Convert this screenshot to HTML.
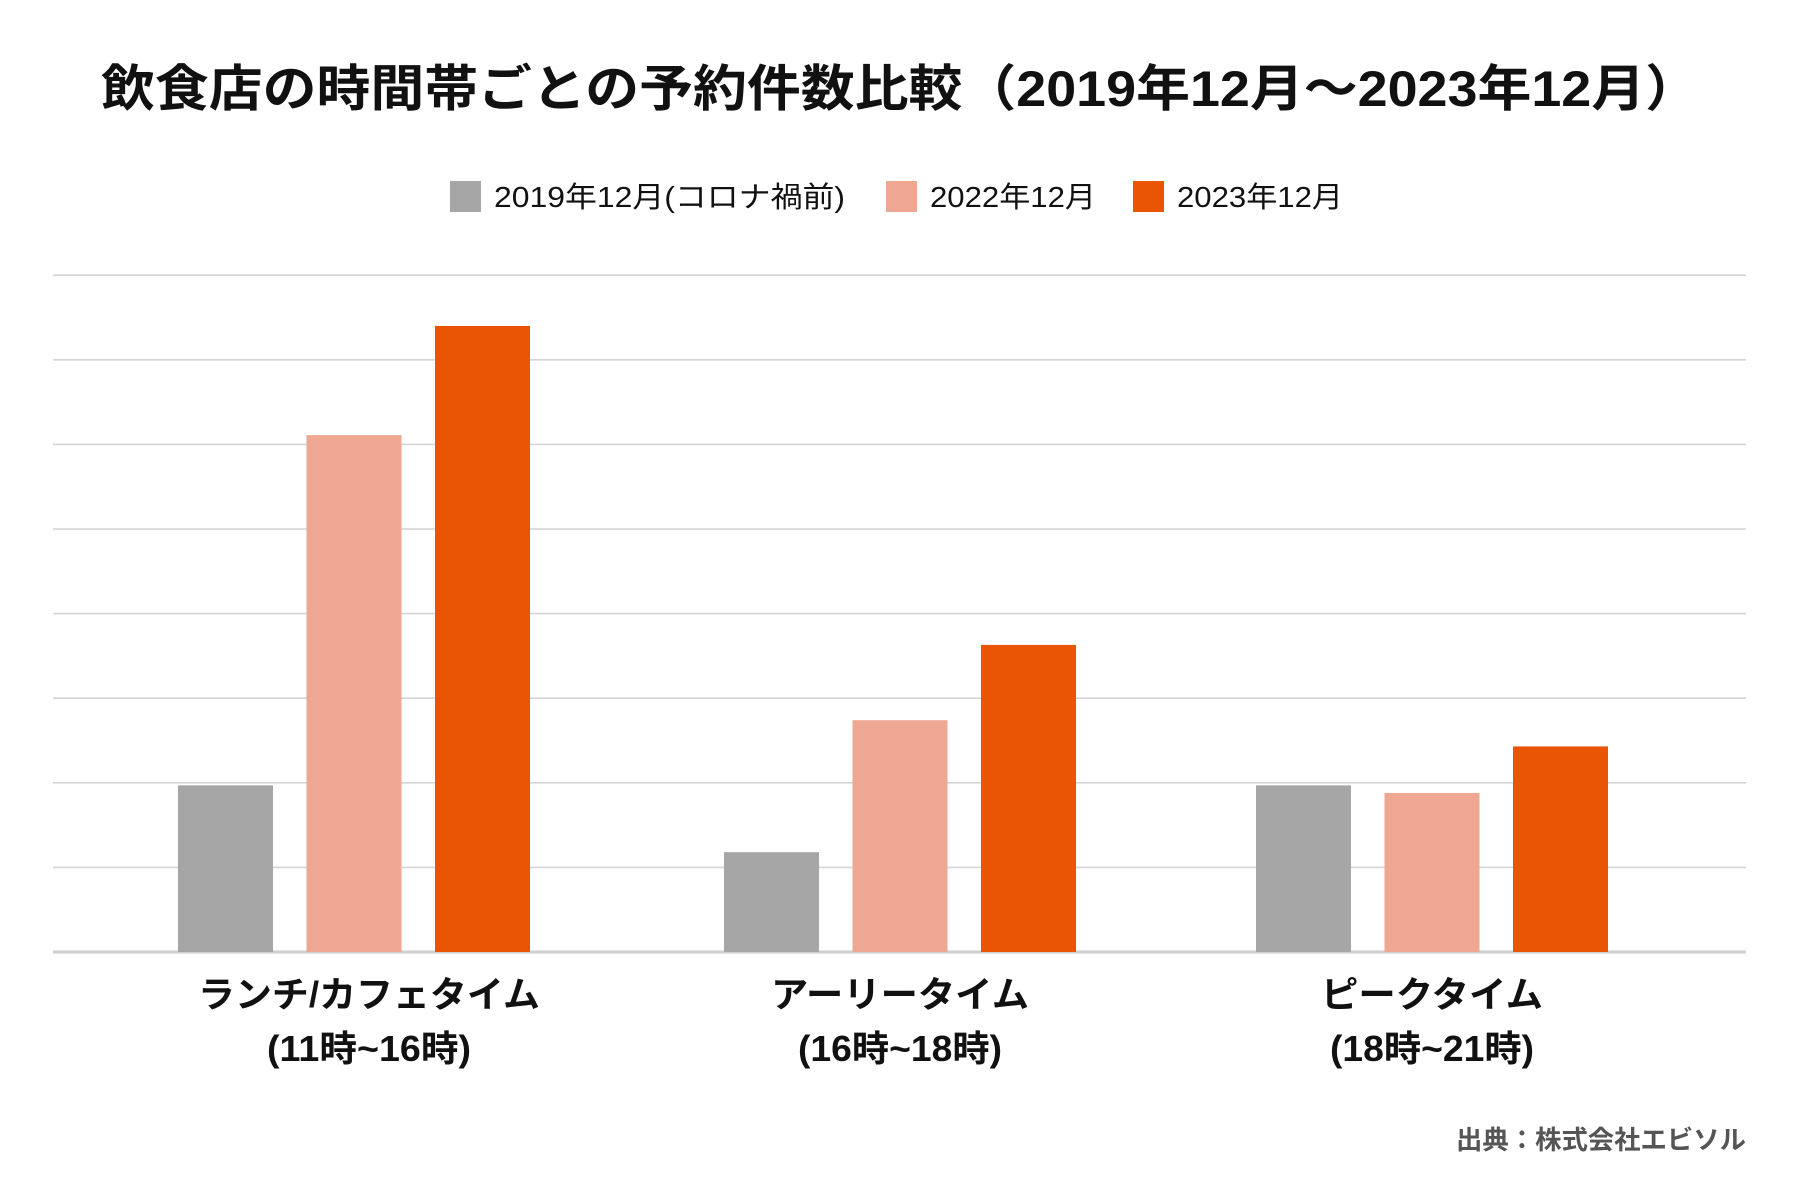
<!DOCTYPE html>
<html><head><meta charset="utf-8"><style>
html,body{margin:0;padding:0;background:#fff;}
svg{display:block;font-family:"Liberation Sans","Noto Sans CJK JP",sans-serif;}
</style></head><body>
<svg id="chart" width="1800" height="1200" viewBox="0 0 1800 1200">
<text x="101" y="106" textLength="1598" lengthAdjust="spacingAndGlyphs" font-size="50" font-weight="bold" fill="#111">飲食店の時間帯ごとの予約件数比較（2019年12月～2023年12月）</text>
<g id="legend"></g>
<g id="grid"></g>
<g id="bars"></g>
<g id="xlabels"></g>
<text x="1456" y="1149" textLength="290" lengthAdjust="spacingAndGlyphs" font-size="26" font-weight="600" fill="#555">出典：株式会社エビソル</text>
</svg>
<script>
const categories = ["ランチ/カフェタイム|(11時~16時)", "アーリータイム|(16時~18時)", "ピークタイム|(18時~21時)"];
const seriesNames = ["2019年12月(コロナ禍前)", "2022年12月", "2023年12月"];
const series2019 = [1.97, 1.18, 1.97];
const series2022 = [6.11, 2.74, 1.88];
const series2023 = [7.4, 3.63, 2.43];
const gridTicks = [0,1,2,3,4,5,6,7,8];
const colors = ["#a6a6a6", "#eda793", "#e95504"];
const NS = "http://www.w3.org/2000/svg";
const X0 = 53, X1 = 1746, Y0 = 952, UNIT = 84.6;
const y = v => Y0 - v * UNIT;
const groupStart = [178, 724, 1256], barW = 95, barStep = 128.5;
const line1W = [342, 258, 222], line2W = [204, 204, 204];
const labelShift = [15, 0, 0];
function mk(tag, attrs, parent) { const e = document.createElementNS(NS, tag); for (const k in attrs) e.setAttribute(k, attrs[k]); parent.appendChild(e); return e; }
const grid = document.getElementById('grid');
gridTicks.forEach(t => {
  const l = mk('line', {x1: X0, x2: X1, y1: y(t), y2: y(t), stroke: t === 0 ? '#cfcfcf' : '#d4d4d4', 'stroke-width': t === 0 ? 3 : 1.6}, grid);
  
  
});
const bars = document.getElementById('bars');
[series2019, series2022, series2023].forEach((s, si) => {
  s.forEach((v, ci) => {
    const x = groupStart[ci] + si * barStep;
    const r = mk('rect', {x: x, y: y(v), width: barW, height: Y0 - y(v), fill: colors[si]}, bars);
    
    
  });
});
const xl = document.getElementById('xlabels');
categories.forEach((c, ci) => {
  const cx = groupStart[ci] + barStep + barW / 2 + labelShift[ci];
  c.split('|').forEach((line, li) => {
    const w = li === 0 ? line1W[ci] : line2W[ci];
    const t = mk('text', {x: cx - w / 2, y: 1007 + li * 54, textLength: w, lengthAdjust: 'spacingAndGlyphs', 'font-size': 36, 'font-weight': 600, fill: '#111'}, xl);
    t.textContent = line;
    
    
  });
});
const lg = document.getElementById('legend');
const legX = [450, 886, 1133];
const legW = [351, 166, 166];
seriesNames.forEach((n, i) => {
  const r = mk('rect', {x: legX[i], y: 181, width: 31, height: 31, fill: colors[i]}, lg);
  
  
  const t = mk('text', {x: legX[i] + 44, y: 207, textLength: legW[i], lengthAdjust: 'spacingAndGlyphs', 'font-size': 29, fill: '#111'}, lg);
  t.textContent = n;
  
  
});
</script>
</body></html>
